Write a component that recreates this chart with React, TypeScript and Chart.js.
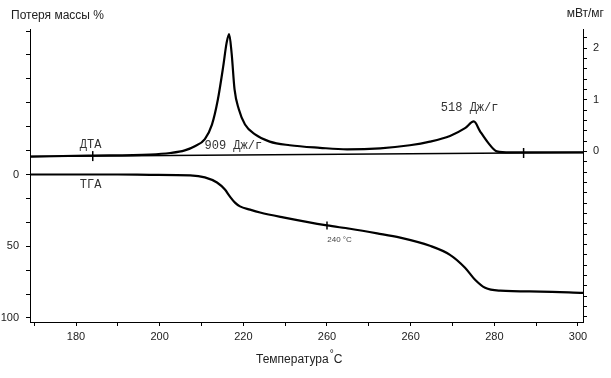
import React, { useEffect, useRef } from "react";
import { Chart, registerables } from "chart.js";

Chart.register(...registerables);

// ДТА (mW/mg) vs temperature (°C)
const dtaT = [169, 183, 197.7, 202.5, 206, 208.4, 210.8, 212.5, 213.9, 215.2, 216.0, 216.6, 217.2, 217.9, 218.9, 220.4, 222.8, 226.3, 231.1, 238.3, 244.8, 252.7, 259.8, 264.6, 269.4, 273.0, 275.1, 276.6, 278.5, 280.6, 283.8, 301.2];
const dtaV = [-0.1, -0.08, -0.06, -0.03, 0.02, 0.1, 0.24, 0.52, 1.0, 1.65, 2.1, 2.27, 1.9, 1.2, 0.82, 0.52, 0.33, 0.19, 0.12, 0.07, 0.04, 0.06, 0.12, 0.19, 0.3, 0.45, 0.58, 0.39, 0.17, 0.0, -0.02, -0.02];

// integration baseline under the DTA curve
const baseT = [169, 301.2];
const baseV = [-0.1, -0.02];
const baseMarkT = [184, 287];
const baseMarkV = [-0.09, -0.03];

// ТГА (mass loss %) vs temperature (°C)
const tgaT = [169, 190, 197.7, 207.3, 210.8, 213.7, 215.6, 216.8, 218.0, 219.2, 221.6, 224, 229.5, 240, 245.5, 252, 257.5, 264.6, 269.4, 273, 275.4, 277.8, 281.4, 291, 301.2];
const tgaM = [0, 0, 0.2, 0.6, 2, 5.6, 10.5, 15.4, 19.6, 22.2, 24.5, 26.5, 29.9, 35.5, 37.8, 41, 44, 49.7, 56, 65, 73.4, 79, 81, 81.6, 82.5];
const tgaMarkT = [240];
const tgaMarkM = [35.5];

// ticks (the original chart labels the 240 tick as "260")
const xTickValues = [170, 180, 190, 200, 210, 220, 230, 240, 250, 260, 270, 280, 290, 300];
const xTickLabels = ["", "180", "", "200", "", "220", "", "260", "", "260", "", "280", "", "300"];
const leftTickValues = [-100, -83.3, -66.7, -50, -33.3, -16.7, 0, 16.7, 33.3, 50, 66.7, 83.3, 100];
const leftTickLabels = ["", "", "", "", "", "", "0", "", "", "50", "", "", "100"];
const rightTickValues = [-3.2, -3, -2.8, -2.6, -2.4, -2.2, -2, -1.8, -1.6, -1.4, -1.2, -1, -0.8, -0.6, -0.4, -0.2, 0, 0.2, 0.4, 0.6, 0.8, 1, 1.2, 1.4, 1.6, 1.8, 2, 2.2];
const rightTickLabels = ["", "", "", "", "", "", "", "", "", "", "", "", "", "", "", "", "0", "", "", "", "", "1", "", "", "", "", "2", ""];

// text annotations
const noteTexts = ["ДТА", "ТГА", "909 Дж/г", "518 Дж/г", "240 °C"];
const noteT = [183.5, 183.5, 217.6, 274.1, 243];
const noteV = [0.12, 7, 0.1, 0.85, 45.5];
const noteAxis = ["y1", "y", "y1", "y1", "y"];

const zip = (xs: number[], ys: number[]) => xs.map((x, i) => ({ x, y: ys[i] }));

const textPlugin = {
  id: "texts",
  afterDraw(chart: any) {
    const { ctx, scales } = chart;
    ctx.save();
    ctx.fillStyle = "#222";
    ctx.textBaseline = "middle";
    ctx.font = "12px 'Liberation Sans', Arial, sans-serif";
    ctx.textAlign = "left";
    ctx.fillText("Потеря массы %", 11, 16);
    ctx.textAlign = "right";
    ctx.fillText("мВт/мг", 604, 14);
    ctx.textAlign = "left";
    const t1 = "Температура";
    const w1 = ctx.measureText(t1).width;
    const x0 = 256;
    ctx.fillText(t1, x0, 360);
    ctx.font = "10px 'Liberation Sans', Arial, sans-serif";
    ctx.fillText("°", x0 + w1 + 1, 354);
    const w2 = ctx.measureText("°").width;
    ctx.font = "12px 'Liberation Sans', Arial, sans-serif";
    ctx.fillText("C", x0 + w1 + w2 + 1, 360);
    ctx.textAlign = "center";
    noteTexts.forEach((t, i) => {
      const px = scales.x.getPixelForValue(noteT[i]);
      const py = scales[noteAxis[i]].getPixelForValue(noteV[i]);
      const small = t.includes("°");
      ctx.font = small ? "8px 'Liberation Sans', Arial, sans-serif" : "12px 'Liberation Mono', 'Courier New', monospace";
      ctx.fillStyle = small ? "#444" : "#333";
      ctx.fillText(t, px, py);
    });
    ctx.restore();
  },
};

function fixTicks(values: number[]) {
  return (scale: any) => {
    scale.ticks = values.map((v) => ({ value: v }));
  };
}

export default function App() {
  const ref = useRef<HTMLCanvasElement | null>(null);
  useEffect(() => {
    if (!ref.current) return;
    const tickFont = { family: "'Liberation Sans', Arial, sans-serif", size: 11 };
    const axisGrid = { drawOnChartArea: false, drawTicks: true, tickLength: 4, color: "#000" };
    const chart = new Chart(ref.current, {
      type: "line",
      data: {
        datasets: [
          { data: zip(dtaT, dtaV), yAxisID: "y1", borderColor: "#000", borderWidth: 2.2, pointRadius: 0, cubicInterpolationMode: "monotone" },
          { data: zip(baseT, baseV), yAxisID: "y1", borderColor: "#000", borderWidth: 1.5, pointRadius: 0 },
          { data: zip(baseMarkT, baseMarkV), yAxisID: "y1", showLine: false, borderColor: "#000", pointStyle: "line", rotation: 90, pointRadius: 5, pointBorderWidth: 1.5 },
          { data: zip(tgaT, tgaM), yAxisID: "y", borderColor: "#000", borderWidth: 2.2, pointRadius: 0, cubicInterpolationMode: "monotone" },
          { data: zip(tgaMarkT, tgaMarkM), yAxisID: "y", showLine: false, borderColor: "#000", pointStyle: "line", rotation: 90, pointRadius: 4, pointBorderWidth: 1.5 },
        ] as any,
      },
      options: {
        responsive: false,
        animation: false,
        layout: { padding: { top: 29, left: 0, right: 0, bottom: 0 } },
        plugins: { legend: { display: false }, tooltip: { enabled: false } },
        scales: {
          x: {
            type: "linear",
            min: 169.0,
            max: 301.2,
            afterBuildTicks: fixTicks(xTickValues),
            afterFit: (s: any) => { s.height = 56; },
            border: { color: "#000", width: 1 },
            grid: axisGrid,
            ticks: {
              autoSkip: false,
              maxRotation: 0,
              padding: 4,
              color: "#222",
              font: tickFont,
              callback: (_v: any, i: number) => xTickLabels[i] ?? "",
            },
          },
          y: {
            type: "linear",
            position: "left",
            reverse: true,
            min: -101.4,
            max: 102.8,
            afterBuildTicks: fixTicks(leftTickValues),
            afterFit: (s: any) => { s.width = 30; },
            border: { color: "#000", width: 1 },
            grid: axisGrid,
            ticks: {
              autoSkip: false,
              padding: 7,
              color: "#222",
              font: tickFont,
              callback: (_v: any, i: number) => leftTickLabels[i] ?? "",
            },
          },
          y1: {
            type: "linear",
            position: "right",
            min: -3.3,
            max: 2.369,
            afterBuildTicks: fixTicks(rightTickValues),
            afterFit: (s: any) => { s.width = 28; },
            border: { color: "#000", width: 1 },
            grid: axisGrid,
            ticks: {
              autoSkip: false,
              padding: 6,
              color: "#222",
              font: tickFont,
              callback: (_v: any, i: number) => rightTickLabels[i] ?? "",
            },
          },
        },
      } as any,
      plugins: [textPlugin],
    });
    return () => chart.destroy();
  }, []);
  return (
    <div style={{ position: "absolute", left: 0, top: 0, width: 611, height: 378, background: "#fff" }}>
      <canvas ref={ref} width={611} height={378} style={{ display: "block" }} />
    </div>
  );
}
